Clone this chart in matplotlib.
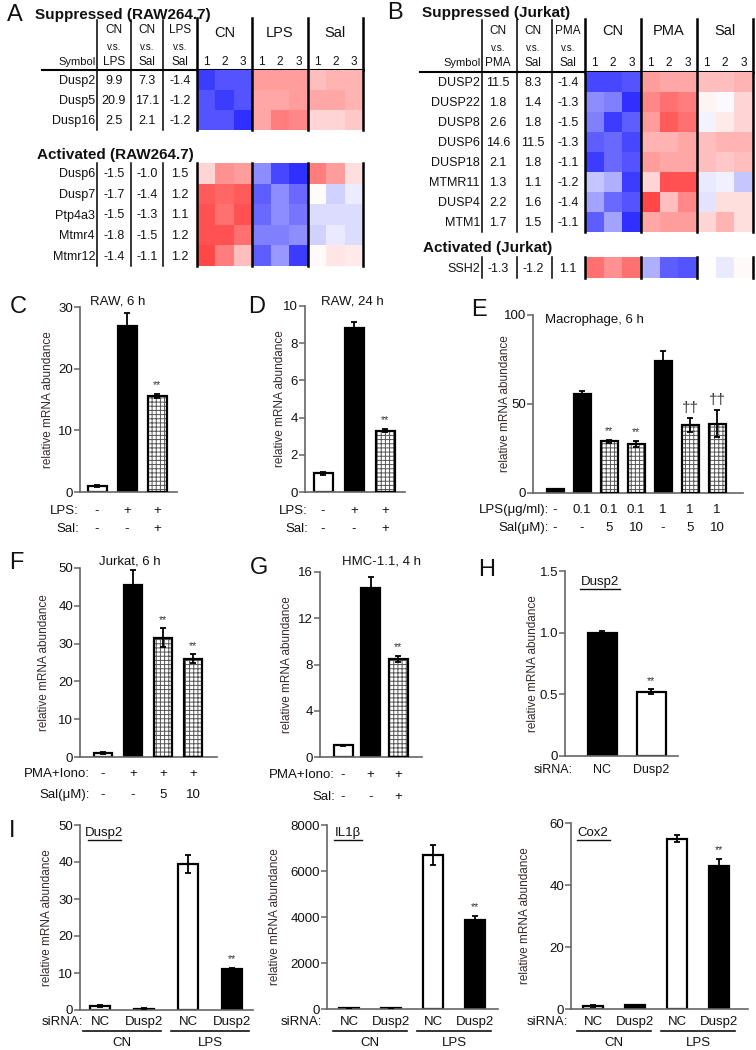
import numpy as np
import matplotlib
matplotlib.use('Agg')
import matplotlib.pyplot as plt
from matplotlib.colors import LinearSegmentedColormap
from matplotlib.transforms import blended_transform_factory

plt.rcParams['font.family'] = ['Liberation Sans', 'DejaVu Sans']
plt.rcParams['hatch.linewidth'] = 0.7

W, H = 756, 1050

# ---------------- data: panel A ----------------
a_cols = [('CN', 'v.s.', 'LPS'), ('CN', 'v.s.', 'Sal'), ('LPS', 'v.s.', 'Sal')]
a_groups = ['CN', 'LPS', 'Sal']
reps = ['1', '2', '3']
a_sup_genes = ['Dusp2', 'Dusp5', 'Dusp16']
a_sup_fc = [[9.9, 7.3, -1.4], [20.9, 17.1, -1.2], [2.5, 2.1, -1.2]]
a_sup_heat = [[-0.85, -0.75, -0.75, 0.45, 0.45, 0.45, 0.30, 0.35, 0.35],
              [-0.75, -0.85, -0.75, 0.40, 0.40, 0.45, 0.40, 0.40, 0.35],
              [-0.75, -0.75, -0.90, 0.40, 0.60, 0.55, 0.20, 0.20, 0.25]]
a_act_genes = ['Dusp6', 'Dusp7', 'Ptp4a3', 'Mtmr4', 'Mtmr12']
a_act_fc = [[-1.5, -1.0, 1.5], [-1.7, -1.4, 1.2], [-1.5, -1.3, 1.1],
            [-1.8, -1.5, 1.2], [-1.4, -1.1, 1.2]]
a_act_heat = [[0.20, 0.50, 0.45, -0.50, -0.80, -0.90, 0.60, 0.45, 0.15],
              [0.75, 0.70, 0.75, -0.70, -0.50, -0.65, 0.02, -0.20, -0.08],
              [0.80, 0.65, 0.80, -0.65, -0.50, -0.60, -0.15, -0.15, -0.15],
              [0.80, 0.80, 0.65, -0.55, -0.55, -0.50, -0.20, -0.10, -0.15],
              [0.85, 0.60, 0.30, -0.70, -0.45, -0.85, 0.03, 0.12, 0.10]]

# ---------------- data: panel B ----------------
b_cols = [('CN', 'v.s.', 'PMA'), ('CN', 'v.s.', 'Sal'), ('PMA', 'v.s.', 'Sal')]
b_groups = ['CN', 'PMA', 'Sal']
b_sup_genes = ['DUSP2', 'DUSP22', 'DUSP8', 'DUSP6', 'DUSP18', 'MTMR11', 'DUSP4', 'MTM1']
b_sup_fc = [[11.5, 8.3, -1.4], [1.8, 1.4, -1.3], [2.6, 1.8, -1.5], [14.6, 11.5, -1.3],
            [2.1, 1.8, -1.1], [1.3, 1.1, -1.2], [2.2, 1.6, -1.4], [1.7, 1.5, -1.1]]
b_sup_heat = [[-0.80, -0.80, -0.75, 0.45, 0.40, 0.40, 0.30, 0.30, 0.35],
              [-0.50, -0.55, -0.90, 0.55, 0.65, 0.60, 0.05, -0.03, 0.20],
              [-0.55, -0.85, -0.70, 0.45, 0.75, 0.65, -0.05, 0.10, 0.20],
              [-0.70, -0.65, -0.80, 0.35, 0.35, 0.40, 0.30, 0.35, 0.35],
              [-0.85, -0.65, -0.75, 0.45, 0.40, 0.40, 0.30, 0.25, 0.30],
              [-0.25, -0.35, -0.85, 0.20, 0.80, 0.80, -0.10, -0.07, -0.25],
              [-0.40, -0.65, -0.75, 0.85, 0.30, 0.55, -0.12, 0.15, 0.15],
              [-0.70, -0.40, -0.90, 0.40, 0.45, 0.45, 0.20, 0.35, 0.15]]
b_act_genes = ['SSH2']
b_act_fc = [[-1.3, -1.2, 1.1]]
b_act_heat = [[0.65, 0.50, 0.65, -0.35, -0.70, -0.75, 0.00, -0.10, 0.03]]

# ---------------- data: bar panels ----------------
c_vals = [1.0, 27.0, 15.6]; c_err = [0.15, 2.0, 0.3]
c_fill = ['white', 'black', 'hatch']; c_sig = ['', '', '**']
c_rows = [['-', '+', '+'], ['-', '-', '+']]; c_rowlab = ['LPS:', 'Sal:']

d_vals = [1.0, 8.8, 3.3]; d_err = [0.08, 0.35, 0.1]
d_fill = ['white', 'black', 'hatch']; d_sig = ['', '', '**']
d_rows = [['-', '+', '+'], ['-', '-', '+']]; d_rowlab = ['LPS:', 'Sal:']

e_vals = [2.0, 55.5, 29.0, 27.5, 74.0, 38.0, 39.0]
e_err = [0.5, 2.0, 1.0, 1.8, 5.5, 4.0, 7.5]
e_fill = ['black', 'black', 'hatch', 'hatch', 'black', 'hatch', 'hatch']
e_sig = ['', '', '**', '**', '', '\u2020\u2020', '\u2020\u2020']
e_rows = [['-', '0.1', '0.1', '0.1', '1', '1', '1'], ['-', '-', '5', '10', '-', '5', '10']]
e_rowlab = ['LPS(\u03bcg/ml):', 'Sal(\u03bcM):']

f_vals = [1.0, 45.5, 31.5, 26.0]; f_err = [0.3, 4.0, 2.5, 1.2]
f_fill = ['white', 'black', 'hatch', 'hatch']; f_sig = ['', '', '**', '**']
f_rows = [['-', '+', '+', '+'], ['-', '-', '5', '10']]; f_rowlab = ['PMA+Iono:', 'Sal(\u03bcM):']

g_vals = [1.0, 14.6, 8.5]; g_err = [0.05, 1.0, 0.25]
g_fill = ['white', 'black', 'hatch']; g_sig = ['', '', '**']
g_rows = [['-', '+', '+'], ['-', '-', '+']]; g_rowlab = ['PMA+Iono:', 'Sal:']

h_vals = [1.0, 0.52]; h_err = [0.01, 0.02]
h_fill = ['black', 'white']; h_sig = ['', '**']
h_rows = [['NC', 'Dusp2']]; h_rowlab = ['siRNA:']

i_cats = ['NC', 'Dusp2', 'NC', 'Dusp2']
i_groups = ['CN', 'LPS']
i_fill = ['white', 'black', 'white', 'black']
i1_vals = [1.0, 0.4, 39.5, 11.0]; i1_err = [0.3, 0.1, 2.5, 0.4]; i1_sig = ['', '', '', '**']
i2_vals = [40, 40, 6700, 3850]; i2_err = [10, 10, 450, 200]; i2_sig = ['', '', '', '**']
i3_vals = [1.0, 1.2, 55.0, 46.0]; i3_err = [0.2, 0.1, 1.2, 2.5]; i3_sig = ['', '', '', '**']

# ---------------- figure ----------------
fig = plt.figure(figsize=(W / 100, H / 100), dpi=100)
ov = fig.add_axes([0, 0, 1, 1], zorder=0)
ov.set_xlim(0, W); ov.set_ylim(H, 0); ov.axis('off')
TXT = '#111111'

cmap = LinearSegmentedColormap.from_list('bwr2', [(0.1, 0.1, 1.0), (1, 1, 1), (1.0, 0.15, 0.15)])


def box(x0, x1, yt, yb, **kw):
    return fig.add_axes([x0 / W, 1 - yb / H, (x1 - x0) / W, (yb - yt) / H], **kw)


def heat(data, x0, x1, yt, yb):
    ax = box(x0, x1, yt, yb, zorder=2)
    arr = np.array(data)
    ax.pcolormesh(arr, cmap=cmap, vmin=-1, vmax=1)
    ax.set_xlim(0, arr.shape[1]); ax.set_ylim(arr.shape[0], 0)
    ax.axis('off')
    for b in (0, 3, 6, 9):
        ax.axvline(b, color='k', lw=1.8, clip_on=False)
    return ax


def table(cols, groups, secs, colx, seps, hx0, hx1, hy, gy, symx, rule):
    for cx, (t1, t2, t3) in zip(colx, cols):
        ov.text(cx, hy[0], t1, fontsize=8.5, ha='center', va='center', color=TXT)
        ov.text(cx, hy[1], t2, fontsize=7, ha='center', va='center', color=TXT)
        ov.text(cx, hy[2], t3, fontsize=8.5, ha='center', va='center', color=TXT)
    ov.text(symx, hy[2], 'Symbol', fontsize=8, ha='right', va='center', color=TXT)
    cw = (hx1 - hx0) / 9
    for g, grp in enumerate(groups):
        ov.text(hx0 + (g * 3 + 1.5) * cw, gy, grp, fontsize=10.5, ha='center', va='center', color=TXT)
        for r in range(3):
            ov.text(hx0 + (g * 3 + r + 0.5) * cw, hy[2], reps[r], fontsize=8.5,
                    ha='center', va='center', color=TXT)
    for k in range(4):
        xx = hx0 + k * 3 * cw
        ov.plot([xx, xx], [hy[0] - 12, rule[2]], color='k', lw=1.8)
    ov.plot([rule[0], rule[1]], [rule[2], rule[2]], color='k', lw=1.5)
    for title, tx, ty, genes, fc, hm, yt, yb, vt in secs:
        ov.text(tx, ty, title, fontsize=11, fontweight='bold', ha='left', va='center', color=TXT)
        heat(hm, hx0, hx1, yt, yb)
        rh = (yb - yt) / len(genes)
        for i, (gname, f) in enumerate(zip(genes, fc)):
            yy = yt + (i + 0.5) * rh + 1
            ov.text(symx - 1, yy, gname, fontsize=9, ha='right', va='center', color=TXT)
            for cx, v in zip(colx, f):
                ov.text(cx, yy, f'{v:.1f}', fontsize=9, ha='center', va='center', color=TXT)
        for sx in seps:
            ov.plot([sx, sx], [vt, yb], color='k', lw=1.1)


# Panel A
ov.text(15, 15, 'A', fontsize=17, ha='center', va='center', color=TXT)
table(a_cols, a_groups,
      [('Suppressed (RAW264.7)', 35, 15, a_sup_genes, a_sup_fc, a_sup_heat, 70, 130, 20),
       ('Activated (RAW264.7)', 37, 155, a_act_genes, a_act_fc, a_act_heat, 163, 266, 163)],
      colx=[114, 147, 180], seps=[97, 131, 163], hx0=197, hx1=363,
      hy=[30, 47, 62], gy=33, symx=96, rule=(42, 363, 70))

# Panel B
ov.text(395, 13, 'B', fontsize=17, ha='center', va='center', color=TXT)
table(b_cols, b_groups,
      [('Suppressed (Jurkat)', 422, 13, b_sup_genes, b_sup_fc, b_sup_heat, 72, 232, 20),
       ('Activated (Jurkat)', 423, 248, b_act_genes, b_act_fc, b_act_heat, 257, 278, 257)],
      colx=[498, 533, 568], seps=[482, 517, 552], hx0=585, hx1=753,
      hy=[31, 48, 63], gy=31, symx=481, rule=(420, 753, 72))


# ---------------- bar panels ----------------
def bars(L, vals, errs, fills, sig, ymax, ticks, ticklabels=None):
    x0, x1, yt, yb, c0, sp, w, ylx = L
    ax = box(x0, x1, yt, yb, zorder=3)
    ax.patch.set_alpha(0)
    ax.set_xlim((x0 - c0) / sp, (x1 - c0) / sp)
    ax.set_ylim(0, ymax)
    bw = w / sp
    for i, (v, e, f, s) in enumerate(zip(vals, errs, fills, sig)):
        if f == 'hatch':
            ax.bar(i, v, bw, color='white', edgecolor='#555555', hatch='++++', lw=0, zorder=2)
            ax.bar(i, v, bw, fill=False, edgecolor='black', lw=1.6, zorder=3)
        else:
            ax.bar(i, v, bw, color=f, edgecolor='black', lw=1.6, zorder=2)
        ax.errorbar(i, v, yerr=e, color='black', capsize=2.5, elinewidth=1.3, capthick=1.3,
                    zorder=4)
        if s:
            fs = 7.5 if s == '**' else 11
            ax.annotate(s, (i, v + e), xytext=(0, 2.5), textcoords='offset points',
                        ha='center', va='bottom', fontsize=fs, color='#333333')
    for sp_ in ('top', 'right'):
        ax.spines[sp_].set_visible(False)
    for sp_ in ('left', 'bottom'):
        ax.spines[sp_].set_color('#666666'); ax.spines[sp_].set_linewidth(1.2)
    ax.set_xticks([])
    ax.set_yticks(ticks)
    if ticklabels is not None:
        ax.set_yticklabels(ticklabels)
    ax.tick_params(axis='y', direction='out', length=4, width=1.1, color='#666666',
                   labelsize=9.5, pad=1, labelcolor=TXT)
    ov.text(ylx, (yt + yb) / 2, 'relative mRNA abundance', rotation=90, fontsize=8.5,
            ha='center', va='center', color='#3a2a2a')
    return ax


def rows(ax, labels, rowvals, ys, xr, fs=9.5):
    tr = blended_transform_factory(ax.transData, ov.transData)
    for lab, rv, y in zip(labels, rowvals, ys):
        ov.text(xr, y, lab, ha='right', va='center', fontsize=fs, color=TXT)
        for i, v in enumerate(rv):
            ax.text(i, y, v, transform=tr, ha='center', va='center', fontsize=fs,
                    color=TXT, clip_on=False)


def ul_title(x, y, s, w):
    ov.text(x, y, s, ha='center', va='center', fontsize=9.5, color=TXT)
    ov.plot([x - w / 2, x + w / 2], [y + 6.5, y + 6.5], color=TXT, lw=1)


# C
ov.text(18, 307, 'C', fontsize=17, ha='center', va='center', color=TXT)
ax = bars((80, 177, 307, 492, 97, 30, 19, 48), c_vals, c_err, c_fill, c_sig, 30, [0, 10, 20, 30])
rows(ax, c_rowlab, c_rows, [511, 529], 79)
ov.text(118, 302, 'RAW, 6 h', ha='center', va='center', fontsize=9.5, color=TXT)

# D
ov.text(257, 307, 'D', fontsize=17, ha='center', va='center', color=TXT)
ax = bars((305, 405, 306, 492, 323, 31, 19, 280), d_vals, d_err, d_fill, d_sig, 10,
          [0, 2, 4, 6, 8, 10])
rows(ax, d_rowlab, d_rows, [511, 529], 308)
ov.text(352, 302, 'RAW, 24 h', ha='center', va='center', fontsize=9.5, color=TXT)

# E
ov.text(479, 310, 'E', fontsize=17, ha='center', va='center', color=TXT)
ax = bars((533, 743, 315, 493, 555, 27, 17, 505), e_vals, e_err, e_fill, e_sig, 100, [0, 50, 100])
rows(ax, e_rowlab, e_rows, [510, 528], 549)
ov.text(545, 320, 'Macrophage, 6 h', ha='left', va='center', fontsize=9.5, color=TXT)

# F
ov.text(16, 563, 'F', fontsize=17, ha='center', va='center', color=TXT)
ax = bars((80, 217, 568, 757, 103, 30, 18, 44), f_vals, f_err, f_fill, f_sig, 50,
          [0, 10, 20, 30, 40, 50])
rows(ax, f_rowlab, f_rows, [774, 795], 90)
ov.text(130, 562, 'Jurkat, 6 h', ha='center', va='center', fontsize=9.5, color=TXT)

# G
ov.text(259, 568, 'G', fontsize=17, ha='center', va='center', color=TXT)
ax = bars((320, 422, 572, 757, 343, 27.5, 19, 287), g_vals, g_err, g_fill, g_sig, 16,
          [0, 4, 8, 12, 16])
rows(ax, g_rowlab, g_rows, [775, 797], 335)
ov.text(382, 562, 'HMC-1.1, 4 h', ha='center', va='center', fontsize=9.5, color=TXT)

# H
ov.text(487, 570, 'H', fontsize=17, ha='center', va='center', color=TXT)
ax = bars((565, 678, 571, 756, 602, 49, 29, 533), h_vals, h_err, h_fill, h_sig, 1.5,
          [0, 0.5, 1.0, 1.5], ['0', '0.5', '1.0', '1.5'])
rows(ax, h_rowlab, h_rows, [770], 573, fs=9)
ul_title(600, 582, 'Dusp2', 40)

# I
ov.text(12, 831, 'I', fontsize=17, ha='center', va='center', color=TXT)
i_layouts = [((80, 253, 825, 1010, 100, 44, 20, 47), i1_vals, i1_err, i1_sig, 50,
              [0, 10, 20, 30, 40, 50], 83, (104, 833, 'Dusp2', 33)),
             ((327, 498, 825, 1009, 349, 42, 20, 275), i2_vals, i2_err, i2_sig, 8000,
              [0, 2000, 4000, 6000, 8000], 322, (348, 833, 'IL1\u03b2', 28)),
             ((571, 748, 823, 1009, 593, 42, 20, 525), i3_vals, i3_err, i3_sig, 60,
              [0, 20, 40, 60], 568, (593, 833, 'Cox2', 33))]
for L, v, e, s, ym, tk, xr, ttl in i_layouts:
    ax = bars(L, v, e, i_fill, s, ym, tk)
    rows(ax, ['siRNA:'], [i_cats], [1022], xr)
    ul_title(*ttl)
    tr = blended_transform_factory(ax.transData, ov.transData)
    hw = 0.38
    for g, grp in enumerate(i_groups):
        xa, xb = 2 * g - hw, 2 * g + 1 + hw
        ax.plot([xa, xb], [1031, 1031], color=TXT, lw=1.2, transform=tr, clip_on=False)
        ax.text(2 * g + 0.5, 1043, grp, transform=tr, ha='center', va='center',
                fontsize=9.5, color=TXT, clip_on=False)

fig.savefig('out.png', dpi=100)
